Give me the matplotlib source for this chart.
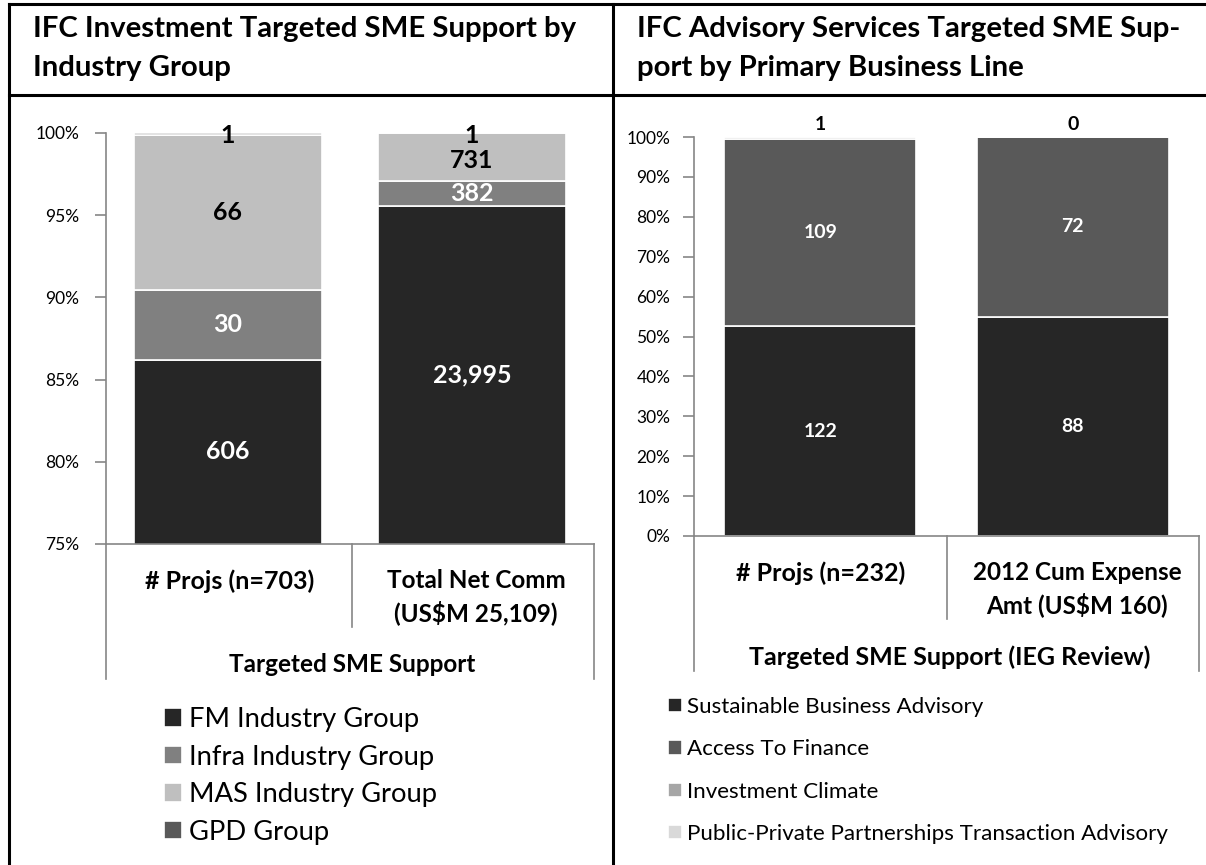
import numpy as np
import matplotlib.pyplot as plt
from matplotlib.lines import Line2D

plt.rcParams['font.family'] = ['Lato', 'DejaVu Sans']

# left chart: IFC investment by industry group
inv_cats = ['# Projs (n=703)', 'Total Net Comm\n(US$M 25,109)']
inv_groups = ['FM Industry Group', 'Infra Industry Group', 'MAS Industry Group', 'GPD Group']
inv_vals = [[606, 23995],
            [30, 382],
            [66, 731],
            [1, 1]]
inv_labels = [['606', '23,995'], ['30', '382'], ['66', '731'], ['1', '1']]
inv_colors = ['#262626', '#808080', '#bfbfbf', '#595959']
inv_txt = ['white', 'white', 'black', 'black']

# right chart: IFC advisory services by business line
adv_cats = ['# Projs (n=232)', '2012 Cum Expense\nAmt (US$M 160)']
adv_groups = ['Sustainable Business Advisory', 'Access To Finance', 'Investment Climate',
              'Public-Private Partnerships Transaction Advisory']
adv_vals = [[122, 88],
            [109, 72],
            [1, 0],
            [0, 0]]
adv_labels = [['122', '88'], ['109', '72']]
adv_top = ['1', '0']
adv_colors = ['#262626', '#595959', '#a6a6a6', '#d9d9d9']

W, H = 1206, 865
fig = plt.figure(figsize=(W / 100, H / 100), dpi=100)

def box(x0, y0, x1, y1):
    return [x0 / W, 1 - y1 / H, (x1 - x0) / W, (y1 - y0) / H]

def fline(xs, ys, color='black', lw=2.2):
    fig.add_artist(Line2D([x / W for x in xs], [1 - y / H for y in ys],
                          color=color, lw=lw, transform=fig.transFigure))

GRAY = '#868686'

def style_axes(ax, pad):
    for s in ['top', 'right']:
        ax.spines[s].set_visible(False)
    for s in ['left', 'bottom']:
        ax.spines[s].set_color(GRAY)
        ax.spines[s].set_linewidth(1.2)
    ax.tick_params(axis='y', colors=GRAY, length=8, width=1.2, pad=pad,
                   labelcolor='black', labelsize=12.5)
    ax.tick_params(axis='x', length=0, labelbottom=False)
    ax.set_xlim(-0.5, 1.5)

# ---- left panel
ax1 = fig.add_axes(box(106, 133, 594, 544))
ymin1 = 75
tot1 = np.array(inv_vals).sum(axis=0)
pct1 = np.array(inv_vals) / tot1 * 100
bottom = np.zeros(2)
bars1 = []
for i, g in enumerate(inv_groups):
    b = ax1.bar([0, 1], pct1[i], 0.77, bottom=bottom, color=inv_colors[i],
                edgecolor='white', linewidth=1.2, label=g)
    bars1.append(b)
    for j in range(2):
        lo = max(bottom[j], ymin1)
        yc = (lo + bottom[j] + pct1[i][j]) / 2
        if i == 3:
            yc = 99.85
        elif i == 2 and j == 1:
            yc -= 0.2
        ax1.text(j, yc, inv_labels[i][j], ha='center', va='center', color=inv_txt[i],
                 fontsize=18, fontweight='bold')
    bottom += pct1[i]
ax1.set_ylim(ymin1, 100)
ax1.set_yticks([75, 80, 85, 90, 95, 100])
ax1.set_yticklabels(['75%', '80%', '85%', '90%', '95%', '100%'])
style_axes(ax1, 11)

# ---- right panel
ax2 = fig.add_axes(box(694, 137, 1199, 536))
tot2 = np.array(adv_vals).sum(axis=0)
pct2 = np.array(adv_vals) / tot2 * 100
bottom = np.zeros(2)
bars2 = []
for i, g in enumerate(adv_groups):
    b = ax2.bar([0, 1], pct2[i], 0.76, bottom=bottom, color=adv_colors[i],
                edgecolor='white', linewidth=1.2, label=g)
    bars2.append(b)
    if i < 2:
        for j in range(2):
            ax2.text(j, bottom[j] + pct2[i][j] / 2, adv_labels[i][j], ha='center', va='center',
                     color='white', fontsize=14, fontweight='bold')
    bottom += pct2[i]
for j in range(2):
    ax2.text(j, 103.2, adv_top[j], ha='center', va='center', color='black',
             fontsize=14, fontweight='bold', clip_on=False)
ax2.set_ylim(0, 100)
ax2.set_yticks(np.arange(0, 101, 10))
ax2.set_yticklabels(['%d%%' % v for v in range(0, 101, 10)])
style_axes(ax2, 9)

# category axis separators
fline([106, 106], [544, 679], GRAY, 1.2)
fline([352, 352], [544, 627], GRAY, 1.2)
fline([594, 594], [544, 679], GRAY, 1.2)
fline([694, 694], [536, 671], GRAY, 1.2)
fline([947, 947], [536, 619], GRAY, 1.2)
fline([1199, 1199], [536, 671], GRAY, 1.2)

# category labels
fig.text(230 / W, 1 - 581 / H, inv_cats[0], ha='center', va='center', fontsize=18, fontweight='bold')
fig.text(476 / W, 1 - 597 / H, inv_cats[1], ha='center', va='center', fontsize=17.5,
         fontweight='bold', linespacing=1.35)
fig.text(352 / W, 1 - 664 / H, 'Targeted SME Support', ha='center', va='center',
         fontsize=17.5, fontweight='bold')
fig.text(821 / W, 1 - 573 / H, adv_cats[0], ha='center', va='center', fontsize=18, fontweight='bold')
fig.text(1077 / W, 1 - 589 / H, adv_cats[1], ha='center', va='center', fontsize=17.5,
         fontweight='bold', linespacing=1.35)
fig.text(950 / W, 1 - 657 / H, 'Targeted SME Support (IEG Review)', ha='center', va='center',
         fontsize=18, fontweight='bold')

# titles
fig.text(33 / W, 1 - 29 / H, 'IFC Investment Targeted SME Support by', ha='left', va='center',
         fontsize=21.2, fontweight='bold')
fig.text(33 / W, 1 - 68 / H, 'Industry Group', ha='left', va='center', fontsize=21.2, fontweight='bold')
fig.text(637 / W, 1 - 29 / H, 'IFC Advisory Services Targeted SME Sup-', ha='left', va='center',
         fontsize=21.2, fontweight='bold')
fig.text(637 / W, 1 - 68 / H, 'port by Primary Business Line', ha='left', va='center',
         fontsize=21.2, fontweight='bold')

# frame lines
fline([9, 1206], [4, 4])
fline([9, 1206], [95, 95])
fline([9, 9], [4, 865])
fline([613, 613], [4, 865])

# legends
fig.legend([b[0] for b in bars1], inv_groups, loc='upper left',
           bbox_to_anchor=(164 / W, 1 - 707 / H), frameon=False, fontsize=19.7,
           handlelength=0.66, handleheight=0.66, handletextpad=0.25, labelspacing=0.46,
           borderaxespad=0, borderpad=0)
fig.legend([b[0] for b in bars2], adv_groups, loc='upper left',
           bbox_to_anchor=(668 / W, 1 - 697 / H), frameon=False, fontsize=16.1,
           handlelength=0.62, handleheight=0.62, handletextpad=0.25, labelspacing=1.0,
           borderaxespad=0, borderpad=0)

fig.savefig('out.png', dpi=100)
